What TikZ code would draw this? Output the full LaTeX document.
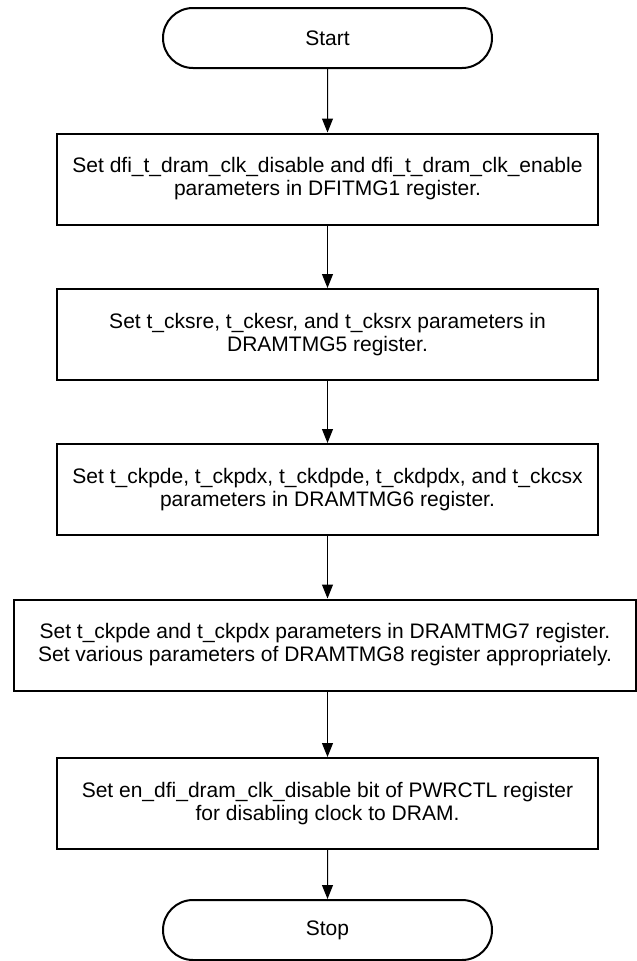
\documentclass[tikz,border=0pt]{standalone}
\usepackage{fontspec}
\setmainfont{Liberation Sans}
\usetikzlibrary{shapes.misc,arrows.meta}
\begin{document}
\begin{tikzpicture}[x=1pt,y=-1pt,
  term/.style={draw,line width=2pt,rounded rectangle,minimum width=329pt,minimum height=60pt,inner sep=0pt,font=\fontsize{21}{23}\selectfont},
  procbox/.style={draw,line width=2pt,rectangle,minimum width=541pt,minimum height=91pt,inner sep=0pt,align=center,font=\fontsize{21}{23}\selectfont},
  arr/.style={line width=1pt,-{Triangle[length=14pt,width=11pt]}}]
\useasboundingbox (0,0) rectangle (637,961);
\node[term] (start) at (327.5,38) {Start};
\node[procbox] (b1) at (327.5,179) {Set dfi\_t\_dram\_clk\_disable and dfi\_t\_dram\_clk\_enable\\parameters in DFITMG1 register.};
\node[procbox] (b2) at (327.5,334.5) {Set t\_cksre, t\_ckesr, and t\_cksrx parameters in\\DRAMTMG5 register.};
\node[procbox] (b3) at (327.5,489.5) {Set t\_ckpde, t\_ckpdx, t\_ckdpde, t\_ckdpdx, and t\_ckcsx\\parameters in DRAMTMG6 register.};
\node[procbox,minimum width=622pt] (b4) at (325,645) {Set t\_ckpde and t\_ckpdx parameters in DRAMTMG7 register.\\Set various parameters of DRAMTMG8 register appropriately.};
\node[procbox] (b5) at (327.5,803.5) {Set en\_dfi\_dram\_clk\_disable bit of PWRCTL register\\for disabling clock to DRAM.};
\node[term] (stop) at (327.5,930) {Stop};
\draw[arr] (start) -- (b1);
\draw[arr] (b1) -- (b2);
\draw[arr] (b2) -- (b3);
\draw[arr] (b3.south) -- (b3.south |- b4.north);
\draw[arr] (b4.south -| b5.north) -- (b5.north);
\draw[arr] (b5) -- (stop);
\end{tikzpicture}
\end{document}
